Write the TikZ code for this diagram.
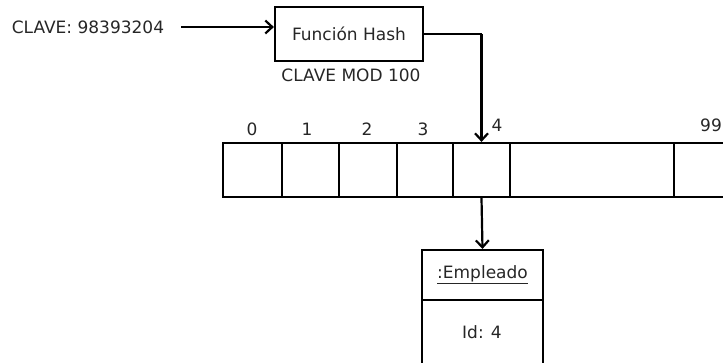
\documentclass[tikz,border=0pt]{standalone}
\usepackage{fontspec}
\setmainfont{DejaVu Sans}
\usetikzlibrary{arrows.meta}
\begin{document}
\begin{tikzpicture}[x=1pt,y=-1pt,
  txt/.style={text=black!85,font=\fontsize{17}{20}\selectfont,inner sep=0pt},
  box/.style={draw,line width=2.2pt,inner sep=0pt},
  conn/.style={line width=2.2pt,-{Straight Barb[length=7pt,width=13pt,line width=2.2pt]}},
  wire/.style={line width=2.2pt}]
\useasboundingbox (0,0) rectangle (723,362);
\clip (0,0) rectangle (723,362);
% key and hash function
\node[txt] (key) at (88,27) {CLAVE: 98393204};
\coordinate (keyend) at (181,27);
\node[box,minimum width=148pt,minimum height=54pt] (hash) at (349,34) {};
\node[txt] (hashlbl) at (hash.center) {Función Hash};
\node[txt] (mod) at (351,75) {CLAVE MOD 100};
\draw[conn] (keyend) -- (hash.west |- keyend);
% array cells
\node[box,minimum width=59pt,minimum height=54pt] (c0) at (252.5,170) {};
\node[box,minimum width=57pt,minimum height=54pt] (c1) at (310.5,170) {};
\node[box,minimum width=58pt,minimum height=54pt] (c2) at (368,170) {};
\node[box,minimum width=56pt,minimum height=54pt] (c3) at (425,170) {};
\node[box,minimum width=57pt,minimum height=54pt] (c4) at (481.5,170) {};
\node[box,minimum width=164pt,minimum height=54pt] (c5) at (592,170) {};
\node[box,minimum width=80pt,minimum height=54pt] (c99) at (714,170) {};
% index labels
\node[txt] (l0) at (252,129) {0};
\node[txt] (l1) at (307,129) {1};
\node[txt] (l2) at (367,129) {2};
\node[txt] (l3) at (423,129) {3};
\node[txt] (l4) at (497,125) {4};
\node[txt] (l99) at (711,125) {99};
% hash to cell 4
\coordinate (bend) at (c4.north |- hash.east);
\draw[wire] (hash.east) -- (bend);
\draw[conn] (bend) -- (c4.north);
% object box
\node[box,minimum width=121pt,minimum height=50pt] (objhead) at (482.5,275) {};
\node[box,minimum width=121pt,minimum height=80pt] (objbody) at (482.5,340) {};
\node[txt] (objname) at (objhead.center) {\underline{:Empleado}};
\node[txt] (objid) at (482,332) {Id: 4};
\draw[conn] (c4.south) -- (objhead.north);
\end{tikzpicture}
\end{document}
